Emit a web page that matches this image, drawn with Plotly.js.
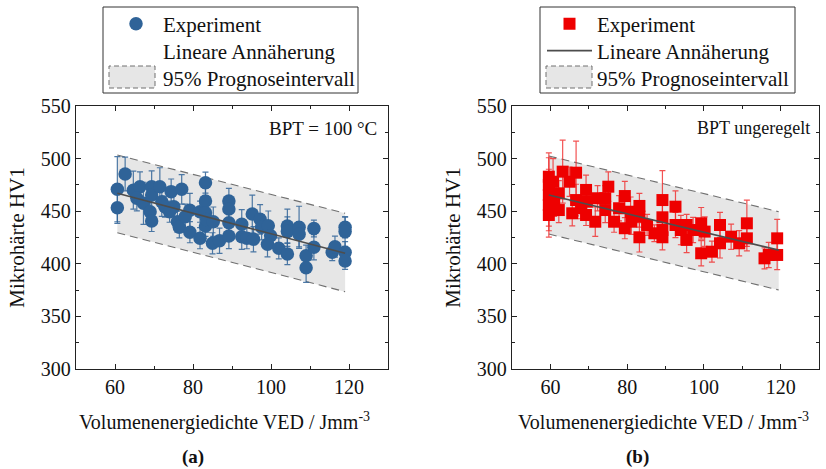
<!DOCTYPE html>
<html>
<head>
<meta charset="utf-8">
<script src="https://cdn.plot.ly/plotly-3.0.1.min.js"></script>
<style>html,body{margin:0;padding:0;background:#fff;}#chart{width:826px;height:469px;}</style>
</head>
<body>
<div id="chart"></div>
<script>
// ---- (a) BPT = 100 °C ----
const xA = [60.6,60.6,62.6,64.7,66.4,65.6,67.3,69.4,69.4,71.5, 69.0,69.4,72.0,72.8,74.4,75.1,74.0,77.1,76.0,76.5, 79.2,79.2,78.0,81.8,81.8,83.2,83.2,83.2,83.2,83.5, 85.0,86.8,85.2,89.2,89.2,89.2,89.2,92.5,92.5,93.8, 95.2,95.5,97.2,97.6,99.3,99.9,99.1,102.0,104.2,104.2, 104.2,107.2,107.2,109.0,109.0,111.0,111.0,115.7,116.4,119.0, 119.0,119.0,119.0];
const yA = [470.8,453.3,485.4,470,473.3,462.3,457.5,473.3,465.4,473.3, 449.5,440.7,459,454.3,468.6,454.3,449.5,470.8,440,434.7, 451,430,444.8,449.5,424.3,477.1,459.7,448.6,436,442, 419.5,422,440,459.7,452,439,426.4,437.5,425.8,424.3, 447.3,423.4,442.3,434.7,436.2,426.7,418.5,414.7,436,430.6, 409.3,434.7,428,407.7,396.3,433.5,415.7,411,416.3,434.7, 430.6,411,402.7];
const eA = [31,15,16,18,14,12,20,15,12,18, 12,10,14,10,12,14,10,14,10,10, 16,10,12,10,10,10,12,16,10,12, 10,12,14,12,10,14,12,14,12,10, 18,12,14,12,14,10,12,10,16,14, 10,20,12,10,14,8,12,8,10,10, 14,10,8];
const fitAX = [60.6, 119];
const fitAY = [467, 410];
const upA = [503.4, 448];
const loA = [429.6, 373.5];

// ---- (b) BPT ungeregelt ----
const xB = [59.6,59.6,59.6,59.6,59.6,60.7,61.0,62.2,62.2,63.2, 65.0,65.7,66.7,66.7,68.0,69.3,69.5,69.3,71.7,72.3, 74.3,75.1,74.3,76.6,77.9,79.4,79.4,80.9,81.1,83.2, 83.2,83.2,85.2,87.1,89.2,89.2,89.2,89.2,92.6,92.6, 94.0,95.5,95.5,97.2,99.3,99.3,100.2,102.1,104.2,104.2, 107.1,109.2,111.2,111.2,115.8,116.9,119.1,119.1];
const yB = [482.8,474.9,465.4,455.9,446.4,478,459,467,451.1,487.6, 478,448,486.6,460.6,452.8,470.2,459,446.4,440,462.3, 462.3,473.3,451.1,440,452.8,464.4,433.8,449.5,440,455, 444.9,425.2,436.9,429,460.6,444.2,432.1,425.2,454.3,436.9, 432.1,436.9,422.7,432.1,438.5,410,430.6,411.5,436.9,419.5, 425.8,419.5,438.5,424.2,405.2,408.4,424.2,408.4];
const eB = [18,15,40,20,15,22,14,12,12,30, 14,12,30,15,10,14,12,10,14,12, 12,14,12,10,12,14,10,14,12,12, 10,14,10,8,28,18,10,12,15,12, 14,10,12,12,15,12,14,10,12,14, 12,12,22,12,10,12,18,14];
const fitBX = [59.6, 119.5];
const fitBY = [465.4, 413];
const upB = [502.5, 449.5];
const loB = [428.3, 375.1];

const legendNames = ['Experiment', 'Lineare Annäherung', '95% Prognoseintervall'];
const panelNotes = ['BPT = 100 °C', 'BPT ungeregelt'];
const panelLabels = ['(a)', '(b)'];
const xTitle = 'Volumenenergiedichte VED / Jmm<sup>-3</sup>';
const yTitle = 'Mikrohärte HV1';

const FONT = 'Liberation Serif, Times New Roman, serif';
const bandLine = {color: '#707070', width: 1.1, dash: '8px,5px'};

function panel(xs, ys, es, fx, fy, up, lo, ax, ay, legs, mColor, eColor, sym, size, showFitInLegend) {
  return [
    {x: fx, y: lo, xaxis: ax, yaxis: ay, mode: 'lines', line: bandLine, showlegend: false, hoverinfo: 'skip'},
    {x: fx, y: up, xaxis: ax, yaxis: ay, mode: 'lines', line: bandLine, fill: 'tonexty', fillcolor: '#e6e6e6', showlegend: false, hoverinfo: 'skip'},
    {x: xs, y: ys, xaxis: ax, yaxis: ay, type: 'scatter', mode: 'markers', name: legendNames[0], legend: legs[0],
     marker: {color: mColor, size: size, symbol: sym},
     error_y: {type: 'data', array: es, visible: true, color: eColor, thickness: 1.2, width: 3}},
    {x: fx, y: fy, xaxis: ax, yaxis: ay, mode: 'lines', line: {color: '#4d4d4d', width: 1.6}, name: legendNames[1],
     legend: legs[1], showlegend: showFitInLegend},
    {x: [null], y: [null], xaxis: ax, yaxis: ay, mode: 'lines', line: {color: 'rgba(0,0,0,0)', width: 1}, name: legendNames[1],
     legend: legs[1], showlegend: !showFitInLegend},
    {x: [null], y: [null], xaxis: ax, yaxis: ay, mode: 'lines', line: {color: 'rgba(0,0,0,0)', width: 1}, name: legendNames[2],
     legend: legs[2], showlegend: true}
  ];
}

const data = [].concat(
  panel(xA, yA, eA, fitAX, fitAY, upA, loA, 'x', 'y', ['legend', 'legend2', 'legend3'], '#2f6398', 'rgba(47,99,152,0.85)', 'circle', 13.5, false),
  panel(xB, yB, eB, fitBX, fitBY, upB, loB, 'x2', 'y2', ['legend4', 'legend5', 'legend6'], '#ee0000', 'rgba(240,40,40,0.8)', 'square', 12, true)
);

const W = 826, H = 469;
function px(x) { return x / W; }
function py(y) { return 1 - y / H; }

function xax(dom, anchor) {
  return {domain: dom, anchor: anchor, range: [50, 130], tickvals: [60, 80, 100, 120], ticks: 'inside', ticklen: 5,
    tickcolor: '#222', showline: true, linecolor: '#222', linewidth: 1.2, mirror: 'allticks', showgrid: false, zeroline: false,
    minor: {tickvals: [70, 90, 110, 130, 50], ticks: 'inside', ticklen: 3, tickcolor: '#222', showgrid: false},
    tickfont: {family: FONT, size: 20, color: '#111'}};
}
function yax(dom, anchor) {
  return {domain: dom, anchor: anchor, range: [300, 550], dtick: 50, ticks: 'inside', ticklen: 5,
    tickcolor: '#222', showline: true, linecolor: '#222', linewidth: 1.2, mirror: 'allticks', showgrid: false, zeroline: false,
    minor: {dtick: 25, ticks: 'inside', ticklen: 3, tickcolor: '#222', showgrid: false},
    tickfont: {family: FONT, size: 20, color: '#111'},
    title: {text: yTitle, font: {family: FONT, size: 21, color: '#111'}, standoff: 10}};
}

const yDom = [py(369), py(106)];
function leg(x, y, iw) {
  return {x: px(x), y: py(y), xanchor: 'left', yanchor: 'middle', itemwidth: iw,
    font: {family: FONT, size: 21, color: '#111'}, bgcolor: 'rgba(0,0,0,0)', borderwidth: 0};
}
const rowY = [24, 51, 78];
const titleFont = {family: FONT, size: 20, color: '#111'};

const layout = {
  width: W, height: H, margin: {l: 0, r: 0, t: 0, b: 0}, paper_bgcolor: '#fff', plot_bgcolor: '#fff',
  font: {family: FONT, color: '#111'},
  xaxis: xax([px(76), px(388)], 'y'),
  yaxis: yax(yDom, 'x'),
  xaxis2: xax([px(512), px(819)], 'y2'),
  yaxis2: yax(yDom, 'x2'),
  legend: leg(109, rowY[0], 44),
  legend2: leg(109, rowY[1], 44),
  legend3: leg(109, rowY[2], 44),
  legend4: leg(542, rowY[0], 45),
  legend5: leg(542, rowY[1], 45),
  legend6: leg(542, rowY[2], 45),
  annotations: [
    {text: xTitle, xref: 'paper', yref: 'paper', x: px(224), y: py(421), xanchor: 'center', yanchor: 'middle', showarrow: false, font: titleFont},
    {text: xTitle, xref: 'paper', yref: 'paper', x: px(663), y: py(421), xanchor: 'center', yanchor: 'middle', showarrow: false, font: titleFont},
    {text: panelNotes[0], xref: 'x domain', yref: 'y domain', x: 0.97, y: 0.916, xanchor: 'right', yanchor: 'middle', showarrow: false, font: {family: FONT, size: 19, color: '#111'}},
    {text: panelNotes[1], xref: 'x2 domain', yref: 'y2 domain', x: 0.977, y: 0.916, xanchor: 'right', yanchor: 'middle', showarrow: false, font: {family: FONT, size: 18, color: '#111'}},
    {text: '<b>' + panelLabels[0] + '</b>', xref: 'paper', yref: 'paper', x: px(193), y: py(457), xanchor: 'center', yanchor: 'middle', showarrow: false, font: {family: FONT, size: 19, color: '#111'}},
    {text: '<b>' + panelLabels[1] + '</b>', xref: 'paper', yref: 'paper', x: px(637), y: py(457), xanchor: 'center', yanchor: 'middle', showarrow: false, font: {family: FONT, size: 19, color: '#111'}}
  ],
  shapes: [
    {type: 'rect', xref: 'paper', yref: 'paper', x0: px(103), x1: px(358), y0: py(93), y1: py(7), fillcolor: 'rgba(0,0,0,0)', line: {color: '#333', width: 1}, layer: 'above'},
    {type: 'rect', xref: 'paper', yref: 'paper', x0: px(540), x1: px(795), y0: py(93), y1: py(7), fillcolor: 'rgba(0,0,0,0)', line: {color: '#333', width: 1}, layer: 'above'},
    {type: 'rect', xref: 'paper', yref: 'paper', x0: px(109), x1: px(155), y0: py(88), y1: py(66), fillcolor: '#e6e6e6', line: {color: '#707070', width: 1, dash: '5px,3px'}, layer: 'above'},
    {type: 'rect', xref: 'paper', yref: 'paper', x0: px(546), x1: px(592), y0: py(88), y1: py(66), fillcolor: '#e6e6e6', line: {color: '#707070', width: 1, dash: '5px,3px'}, layer: 'above'}
  ],
  showlegend: true
};

Plotly.newPlot('chart', data, layout, {displayModeBar: false, staticPlot: true});
</script>
</body>
</html>
